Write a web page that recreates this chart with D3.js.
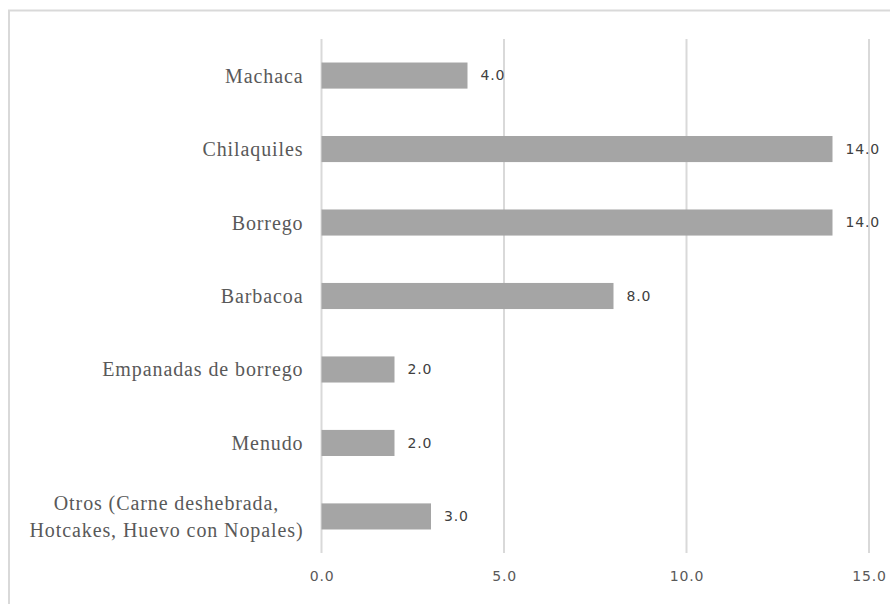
<!DOCTYPE html>
<html>
<head>
<meta charset="utf-8">
<script src="https://cdn.jsdelivr.net/npm/d3@7/dist/d3.min.js"></script>
<style>
  html, body { margin: 0; padding: 0; background: #ffffff; }
  svg { display: block; }
</style>
</head>
<body>
<div id="chart"></div>
<script>
// Dishes, top to bottom, and how many times each was mentioned
const categories = [
  "Machaca",
  "Chilaquiles",
  "Borrego",
  "Barbacoa",
  "Empanadas de borrego",
  "Menudo",
  "Otros (Carne deshebrada,|Hotcakes, Huevo con Nopales)"
];
const values = [4, 14, 14, 8, 2, 2, 3];
const xTicks = [0, 5, 10, 15];

const width = 890, height = 604;
const margin = { top: 39, right: 22, bottom: 51, left: 321.5 };

const svg = d3.select("#chart").append("svg")
  .attr("width", width)
  .attr("height", height);

// chart frame
svg.append("rect")
  .attr("x", 9).attr("y", 10.5)
  .attr("width", width + 20).attr("height", height + 20)
  .attr("fill", "none")
  .attr("stroke", "#d9d9d9")
  .attr("stroke-width", 2);

const x = d3.scaleLinear()
  .domain([0, 15])
  .range([margin.left, margin.left + 15 * 36.5]);

const y = d3.scaleBand()
  .domain(categories)
  .range([margin.top, height - margin.bottom])
  .paddingInner(0.645)
  .paddingOuter(0.32);

// vertical gridlines
svg.append("g")
  .selectAll("line")
  .data(xTicks)
  .join("line")
  .attr("x1", d => x(d)).attr("x2", d => x(d))
  .attr("y1", margin.top).attr("y2", height - margin.bottom)
  .attr("stroke", "#d9d9d9")
  .attr("stroke-width", 2);

// x axis tick labels
const xAxis = d3.axisBottom(x)
  .tickValues(xTicks)
  .tickFormat(d3.format(".1f"))
  .tickSize(0)
  .tickPadding(0);

const gx = svg.append("g")
  .attr("transform", `translate(0,${height - margin.bottom + 24})`)
  .call(xAxis);
gx.select(".domain").remove();
gx.selectAll("text")
  .attr("dy", "0.32em")
  .attr("font-family", "'DejaVu Sans', sans-serif")
  .attr("font-size", 14)
  .attr("letter-spacing", "0.8px")
  .attr("fill", "#595959");

// bars
svg.append("g")
  .selectAll("rect")
  .data(values)
  .join("rect")
  .attr("x", x(0))
  .attr("y", (d, i) => y(categories[i]))
  .attr("width", d => x(d) - x(0))
  .attr("height", y.bandwidth())
  .attr("fill", "#a5a5a5");

// value labels
svg.append("g")
  .selectAll("text")
  .data(values)
  .join("text")
  .attr("x", d => x(d) + 13)
  .attr("y", (d, i) => y(categories[i]) + y.bandwidth() / 2)
  .attr("dy", "0.35em")
  .attr("font-family", "'DejaVu Sans', sans-serif")
  .attr("font-size", 14)
  .attr("letter-spacing", "0.8px")
  .attr("fill", "#404040")
  .text(d => d3.format(".1f")(d));

// category labels (multi-line ones are centred as a block)
const labelRight = x(0) - 18;
const gy = svg.append("g")
  .attr("font-family", "'Liberation Serif', 'Times New Roman', serif")
  .attr("font-size", 20)
  .attr("letter-spacing", "0.9px")
  .attr("fill", "#595959");

categories.forEach(c => {
  const lines = c.split("|");
  const cy = y(c) + y.bandwidth() / 2;
  const lh = 27;
  const t = gy.append("text");
  lines.forEach((ln, k) => {
    t.append("tspan")
      .attr("y", cy + (k - (lines.length - 1) / 2) * lh)
      .attr("dy", "0.35em")
      .text(ln);
  });
  if (lines.length === 1) {
    t.attr("text-anchor", "end");
    t.selectAll("tspan").attr("x", labelRight);
  } else {
    const widths = t.selectAll("tspan").nodes().map(n => n.getComputedTextLength());
    const w = d3.max(widths);
    t.attr("text-anchor", "middle");
    t.selectAll("tspan").attr("x", labelRight - w / 2);
  }
});
</script>
</body>
</html>
